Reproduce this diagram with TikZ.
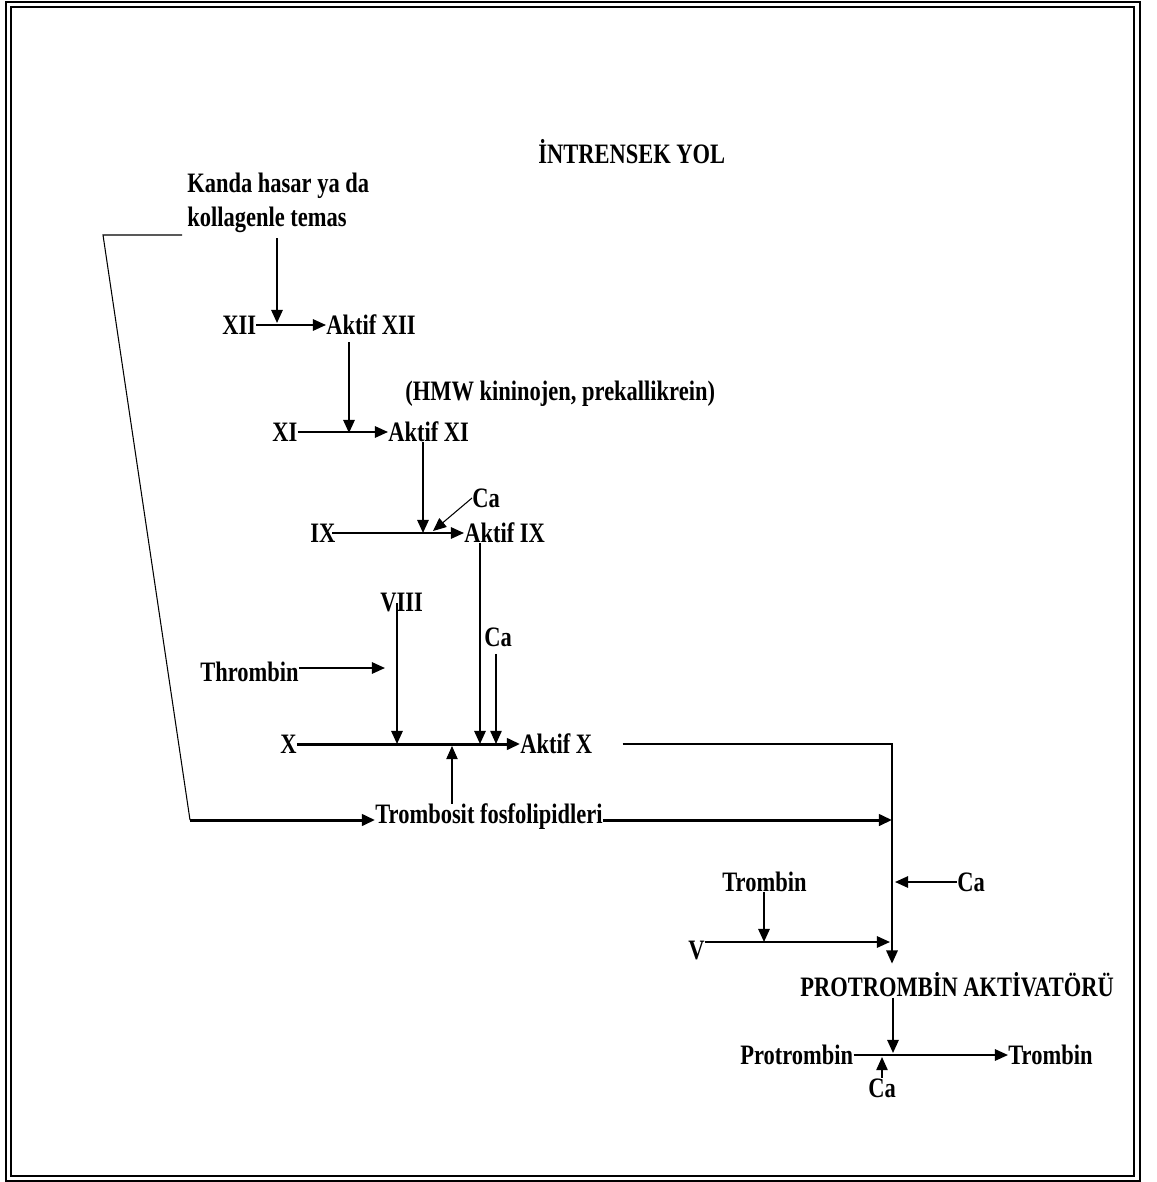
\documentclass[tikz,border=0pt]{standalone}
\usepackage{fontspec}
\setmainfont{Liberation Serif}[FakeStretch=0.8]
\usetikzlibrary{arrows.meta}
\begin{document}
\begin{tikzpicture}[x=0.02cm, y=-0.02cm, >={Triangle[length=7.5pt,width=6.5pt]},
  every node/.style={font=\fontsize{16}{19}\selectfont\bfseries, inner sep=0pt},
  link/.style={->, line width=1.1pt},
  heavy/.style={->, line width=1.7pt},
  fine/.style={line width=0.6pt}]
  \useasboundingbox (0,0) rectangle (1156,1182);
  \draw[line width=1.4pt] (6,2) rectangle (1140,1181);
  \draw[line width=1.4pt] (11,7) rectangle (1134,1176);
  \node[right] (title) at (538,152) {İNTRENSEK YOL};
  \node[right] (kanda) at (187,186) {Kanda hasar ya da};
  \node[right] (kol) at (187,220) {kollagenle temas};
  \node[right] (xii) at (222,325) {XII};
  \node[right] (axii) at (326,325) {Aktif XII};
  \node[right] (hmw) at (405,394) {(HMW kininojen, prekallikrein)};
  \node[right] (xi) at (272,432) {XI};
  \node[right] (axi) at (388,432) {Aktif XI};
  \node[right] (ca1) at (472,498) {Ca};
  \node[right] (ix) at (310,533) {IX};
  \node[right] (aix) at (464,533) {Aktif IX};
  \node[right] (viii) at (380,603) {VIII};
  \node[right] (ca2) at (484,637) {Ca};
  \node[right] (thr) at (200,672) {Thrombin};
  \node[right] (x) at (280,744) {X};
  \node[right] (ax) at (520,744) {Aktif X};
  \node[right] (tf) at (375,817) {Trombosit fosfolipidleri};
  \node[right] (trb1) at (722,882) {Trombin};
  \node[right] (ca3) at (957,882) {Ca};
  \node[right] (v) at (688,950) {V};
  \node[right] (pa) at (800,985) {PROTROMBİN AKTİVATÖRÜ};
  \node[right] (pro) at (740,1055) {Protrombin};
  \node[right] (trb2) at (1008,1055) {Trombin};
  \node[right] (ca4) at (868,1088) {Ca};
  \coordinate (c0) at (182,235); \coordinate (c1) at (103,235);
  \coordinate (c2) at (190,820);
  \coordinate (j12) at (277,323); \coordinate (j11) at (349,433);
  \coordinate (j9) at (423,533); \coordinate (j9b) at (433,531);
  \coordinate (jx1) at (397,744); \coordinate (jx2) at (480,744);
  \coordinate (jx3) at (496,744); \coordinate (jx4) at (452,746);
  \coordinate (jth) at (385,668);
  \coordinate (k1) at (892,744); \coordinate (jpa) at (892,820);
  \coordinate (jca) at (895,882); \coordinate (jv) at (764,942);
  \coordinate (jv2) at (890,942); \coordinate (jp) at (893,1053);
  \coordinate (jp2) at (882,1057);
  \draw[fine] (c0) -- (c1) -- (c2);
  \draw[heavy] (c2) -- (tf.west |- c2);
  \draw[link, shorten <=3pt] (kol.south -| j12) -- (j12);
  \draw[link] (xii.east) -- (axii.west);
  \draw[link, shorten <=4pt] (axii.south -| j11) -- (j11);
  \draw[link] (xi.east) -- (axi.west);
  \draw[link] (axi.south -| j9) -- (j9);
  \draw[fine, ->] (ca1.west) -- (j9b);
  \draw[link] ([xshift=-2pt]ix.east) -- (aix.west);
  \draw[link] (viii.center -| jx1) -- (jx1);
  \draw[link] (aix.south -| jx2) -- (jx2);
  \draw[->, line width=0.8pt, shorten <=4pt] (ca2.south -| jx3) -- (jx3);
  \draw[link] (thr.east |- jth) -- (jth);
  \draw[heavy] (x.east) -- (ax.west);
  \draw[->, fine] (tf.north -| jx4) -- (jx4);
  \draw[heavy] (tf.east |- jpa) -- (jpa);
  \draw[link, shorten >=5pt] ([xshift=0.6cm]ax.east) -- (k1) -- (pa.north -| k1);
  \draw[link] (ca3.west) -- (jca);
  \draw[link] (trb1.south -| jv) -- (jv);
  \draw[link] (v.east |- jv2) -- (jv2);
  \draw[link] (pa.south -| jp) -- (jp);
  \draw[link] (pro.east) -- (trb2.west);
  \draw[->, line width=0.8pt] (ca4.north -| jp2) -- (jp2);
\end{tikzpicture}
\end{document}
